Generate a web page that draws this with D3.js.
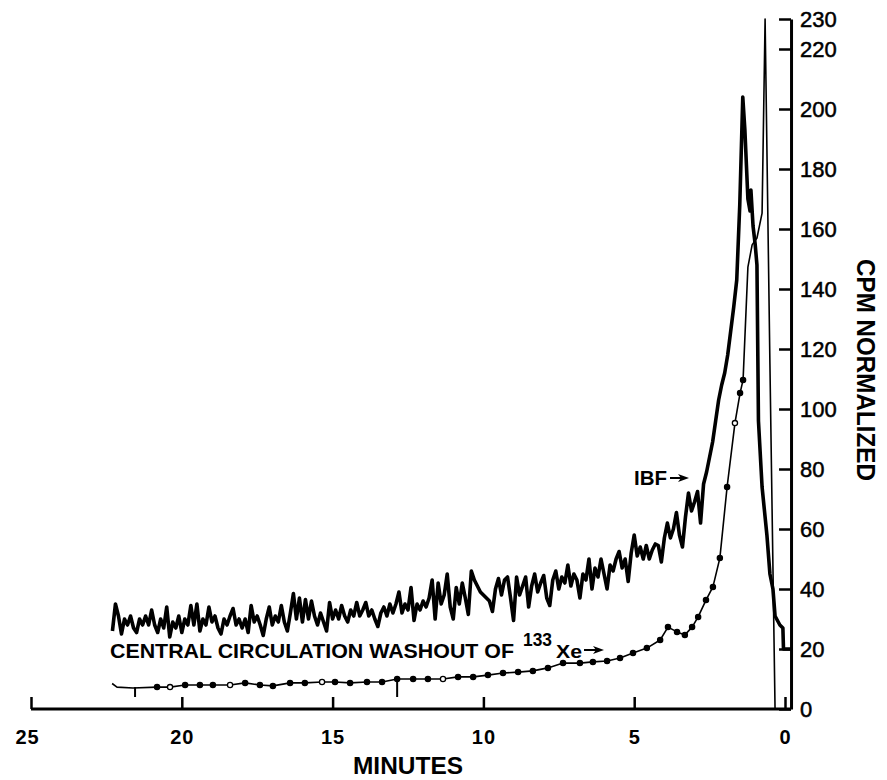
<!DOCTYPE html>
<html>
<head>
<meta charset="utf-8">
<script src="https://d3js.org/d3.v7.min.js"></script>
<style>
    body { margin: 0; background: #ffffff; }
    #washout-svg .font {
        font-family: "Liberation Sans", Arial, Helvetica, sans-serif;
        fill: #000000;
    }
    #washout-svg .axis path,
    #washout-svg .axis line,
    #washout-svg .axis-line {
        stroke: #000000;
        stroke-width: 3;
        fill: none;
    }
    #washout-svg .axis .tick line {
        stroke-width: 2.5;
    }
    #washout-svg .x-axis text {
        font-size: 20px;
        font-weight: bold;
        letter-spacing: 1px;
    }
    #washout-svg .y-axis text {
        font-size: 22px;
        stroke: #000000;
        stroke-width: 0.5;
    }
    #washout-svg .axis-title {
        font-weight: bold;
    }
    #washout-svg .ibf-line {
        fill: none;
        stroke: #000000;
        stroke-width: 3.6;
        stroke-linejoin: round;
    }
    #washout-svg .central-line {
        fill: none;
        stroke: #000000;
        stroke-width: 1.6;
        stroke-linejoin: round;
    }
    #washout-svg .event-mark {
        stroke: #000000;
        stroke-width: 2;
    }
    #washout-svg .label {
        font-weight: bold;
    }
    #washout-svg .arrow {
        stroke: #000000;
        stroke-width: 2;
        fill: none;
    }
</style>
</head>
<body>
<script>

const SVG_ID = "washout-svg";
const SVG_WIDTH = 887;
const SVG_HEIGHT = 780;

const X_AXIS_LABEL = "MINUTES";
const Y_AXIS_LABEL = "CPM NORMALIZED";
const IBF_LABEL = "IBF";
const CENTRAL_LABEL = "CENTRAL CIRCULATION WASHOUT OF";
const ISOTOPE_MASS = "133";
const ISOTOPE_NAME = "Xe";

const MINUTE_TICKS = [25, 20, 15, 10, 5, 0];
const CPM_TICKS = [0, 20, 40, 60, 80, 100, 120, 140, 160, 180, 200, 220, 230];

// [minutes, cpm] (time runs right to left)
const ibfSeries = [
    [22.3, 26], [22.2, 35], [22.1, 31], [22.0, 25], [21.9, 30], [21.8, 28], [21.7, 31], [21.6, 27],
    [21.5, 25.5], [21.4, 30], [21.3, 28], [21.2, 31], [21.1, 28], [21.0, 33], [20.9, 28], [20.8, 25.5],
    [20.7, 30], [20.6, 27], [20.5, 34], [20.4, 24], [20.3, 29], [20.2, 27], [20.1, 31], [20.0, 25.5],
    [19.9, 30], [19.8, 28], [19.7, 34.5], [19.6, 28], [19.5, 35], [19.4, 26], [19.3, 30], [19.2, 28],
    [19.1, 34], [19.0, 29], [18.9, 31], [18.8, 27], [18.7, 25], [18.6, 30], [18.5, 28], [18.4, 31],
    [18.3, 33.5], [18.2, 28], [18.1, 30], [18.0, 27], [17.9, 30], [17.8, 25.5], [17.7, 34.5], [17.6, 29],
    [17.5, 31], [17.4, 28], [17.3, 24.5], [17.2, 30], [17.1, 34], [17.0, 28], [16.9, 31], [16.8, 29],
    [16.7, 34.5], [16.6, 29], [16.5, 26], [16.4, 32], [16.3, 38.5], [16.2, 30], [16.1, 37], [16.0, 29],
    [15.9, 36.5], [15.8, 30], [15.7, 36], [15.6, 31], [15.5, 28], [15.4, 32], [15.3, 29], [15.2, 26],
    [15.1, 35.5], [15.0, 30], [14.9, 33], [14.8, 30], [14.7, 34.5], [14.6, 31], [14.5, 29], [14.4, 33],
    [14.3, 31], [14.2, 35.5], [14.1, 31], [14.0, 33], [13.9, 35.5], [13.8, 31], [13.7, 33], [13.6, 30],
    [13.5, 27.5], [13.4, 32], [13.3, 34], [13.2, 31], [13.1, 35], [13.0, 32], [12.9, 35], [12.8, 39],
    [12.7, 32], [12.6, 35], [12.5, 33], [12.4, 40.5], [12.3, 29.5], [12.2, 35], [12.1, 33], [12.0, 36],
    [11.9, 34], [11.8, 37], [11.7, 43], [11.6, 30], [11.5, 42], [11.4, 35], [11.3, 38], [11.2, 45],
    [11.1, 34], [11.0, 30], [10.9, 40.5], [10.8, 35], [10.7, 42], [10.6, 37], [10.5, 31.5], [10.4, 46],
    [10.3, 43], [10.2, 41], [10.1, 39], [10.0, 38], [9.9, 37], [9.8, 36], [9.7, 32.5], [9.6, 40],
    [9.5, 43.5], [9.4, 38], [9.3, 43], [9.2, 44], [9.1, 37], [9.0, 29.5], [8.9, 44], [8.8, 38],
    [8.7, 41], [8.6, 44], [8.5, 34], [8.4, 41], [8.3, 45], [8.2, 39], [8.1, 42], [8.0, 44.5],
    [7.9, 37], [7.8, 34.5], [7.7, 43], [7.6, 46], [7.5, 40], [7.4, 44], [7.3, 42], [7.2, 48],
    [7.1, 41], [7.0, 45], [6.9, 43], [6.8, 37], [6.7, 45], [6.6, 43], [6.5, 50], [6.4, 40],
    [6.3, 47], [6.2, 44], [6.1, 50], [6.0, 45], [5.9, 40], [5.8, 48], [5.7, 46], [5.6, 50],
    [5.5, 52.5], [5.4, 47], [5.3, 50], [5.2, 42.5], [5.1, 52], [5.0, 58], [4.9, 51], [4.8, 54],
    [4.7, 50], [4.6, 54.5], [4.5, 50], [4.4, 53], [4.3, 55], [4.2, 54.5], [4.1, 49], [4.0, 57],
    [3.9, 62], [3.8, 57], [3.7, 60], [3.6, 65.5], [3.5, 58], [3.4, 54], [3.3, 64], [3.2, 72],
    [3.1, 66], [3.0, 69], [2.9, 72.5], [2.8, 62], [2.7, 75], [2.6, 79], [2.5, 84], [2.4, 89],
    [2.3, 96], [2.2, 103], [2.1, 108], [2.0, 112], [1.9, 118], [1.8, 126], [1.7, 134], [1.6, 143],
    [1.5, 168], [1.4, 204], [1.33, 193], [1.23, 170], [1.16, 166], [1.13, 173], [1.06, 161], [0.99, 155],
    [0.93, 148], [0.88, 96], [0.76, 74], [0.6, 58], [0.5, 45], [0.4, 40], [0.33, 31], [0.17, 28],
    [0.07, 27], [0.05, 20], [-0.2, 20]
];

const centralSeries = [
    [22.31, 8.5], [22.15, 7.3], [21.62, 7.0], [20.82, 7.3], [20.39, 7.3], [19.89, 8.0], [19.40, 8.0],
    [18.97, 8.0], [18.40, 8.0], [17.90, 8.7], [17.41, 8.0], [16.98, 7.7], [16.41, 8.7], [15.92, 8.7],
    [15.35, 9.0], [14.92, 9.0], [14.42, 8.7], [13.86, 9.0], [13.36, 9.0], [12.86, 10.0], [12.33, 10.0],
    [11.84, 10.0], [11.34, 10.0], [10.84, 10.7], [10.34, 10.7], [9.85, 11.3], [9.35, 12.0], [8.85, 12.3],
    [8.36, 12.7], [7.86, 13.7], [7.36, 15.3], [6.80, 15.3], [6.37, 15.7], [5.90, 16.0], [5.47, 17.0],
    [5.04, 18.7], [4.58, 20.3], [4.14, 23.0], [3.88, 27.3], [3.58, 25.7], [3.32, 24.7], [3.08, 27.3],
    [2.88, 30.7], [2.62, 36.3], [2.39, 40.7], [2.16, 50.3], [1.92, 74], [1.66, 95.3], [1.49, 105.3],
    [1.39, 109.7], [1.23, 147.3], [1.09, 154.7], [0.93, 157], [0.76, 165.3], [0.66, 230], [0.50, 115],
    [0.33, 0]
];
const centralDotRange = [1.3, 21.0];
const centralOpenDots = [20.39, 18.40, 15.35, 11.34, 1.66];
// [minutes, from cpm, to cpm] small event ticks hanging under the washout trace
const centralEventMarks = [[21.55, 7.3, 4], [12.86, 10.3, 4]];

const AXIS_MINUTE = -0.2;

var svg = d3.select("body")
    .append("svg")
    .attr("id", SVG_ID)
    .attr("width", SVG_WIDTH)
    .attr("height", SVG_HEIGHT);

var xScale = d3.scaleLinear()
    .domain([25, 0])
    .range([31, 785]);
var yScale = d3.scaleLinear()
    .domain([0, 230])
    .range([709, 19]);

var axisX = xScale(AXIS_MINUTE);

// bottom axis
svg.append("line")
    .classed("axis-line", true)
    .attr("x1", xScale(25))
    .attr("x2", axisX)
    .attr("y1", yScale(0))
    .attr("y2", yScale(0));

var xAxis = d3.axisBottom(xScale)
    .tickValues(MINUTE_TICKS)
    .tickSizeInner(-12)
    .tickSizeOuter(0)
    .tickPadding(21)
    .tickFormat(d3.format("d"));
var xAxisGroup = svg.append("g")
    .classed("axis x-axis font", true)
    .attr("transform", "translate(0," + yScale(0) + ")")
    .call(xAxis);
xAxisGroup.select(".domain").remove();
xAxisGroup.selectAll("text")
    .attr("font-family", null)
    .attr("font-size", null)
    .attr("dx", function(d) { return d === 25 ? -4 : 0; })
    .classed("font", true);

svg.append("text")
    .classed("font axis-title", true)
    .attr("x", 408)
    .attr("y", 774)
    .attr("text-anchor", "middle")
    .attr("font-size", 23)
    .attr("textLength", 110)
    .attr("lengthAdjust", "spacingAndGlyphs")
    .text(X_AXIS_LABEL);

// right axis
var yAxis = d3.axisRight(yScale)
    .tickValues(CPM_TICKS)
    .tickSizeInner(-12)
    .tickSizeOuter(0)
    .tickPadding(9);
var yAxisGroup = svg.append("g")
    .classed("axis y-axis font", true)
    .attr("transform", "translate(" + axisX + ",0)")
    .call(yAxis);
yAxisGroup.selectAll("text")
    .attr("font-family", null)
    .attr("font-size", null)
    .classed("font", true);

svg.append("text")
    .classed("font axis-title", true)
    .attr("transform", "translate(857," + 370 + ") rotate(90)")
    .attr("text-anchor", "middle")
    .attr("font-size", 26)
    .attr("textLength", 222)
    .attr("lengthAdjust", "spacingAndGlyphs")
    .text(Y_AXIS_LABEL);

// traces
var line = d3.line()
    .x(function(d) { return xScale(d[0]); })
    .y(function(d) { return yScale(d[1]); });

svg.append("path")
    .datum(centralSeries)
    .classed("central-line", true)
    .attr("d", line);

svg.selectAll(".event-mark")
    .data(centralEventMarks)
    .enter()
    .append("line")
    .classed("event-mark", true)
    .attr("x1", function(d) { return xScale(d[0]); })
    .attr("x2", function(d) { return xScale(d[0]); })
    .attr("y1", function(d) { return yScale(d[1]); })
    .attr("y2", function(d) { return yScale(d[2]); });

svg.selectAll(".central-dot")
    .data(centralSeries.filter(function(d) {
        return d[0] >= centralDotRange[0] && d[0] <= centralDotRange[1];
    }))
    .enter()
    .append("circle")
    .classed("central-dot", true)
    .attr("cx", function(d) { return xScale(d[0]); })
    .attr("cy", function(d) { return yScale(d[1]); })
    .attr("r", 2.6)
    .attr("fill", function(d) {
        return centralOpenDots.indexOf(d[0]) >= 0 ? "#ffffff" : "#000000";
    })
    .attr("stroke", "#000000")
    .attr("stroke-width", 1.3);

svg.append("path")
    .datum(ibfSeries)
    .classed("ibf-line", true)
    .attr("d", line);

// labels
svg.append("text")
    .classed("font label", true)
    .attr("x", 634)
    .attr("y", 485)
    .attr("font-size", 20)
    .attr("textLength", 33)
    .attr("lengthAdjust", "spacingAndGlyphs")
    .text(IBF_LABEL);

function drawArrow(x0, x1, yPos) {
    svg.append("line")
        .classed("arrow", true)
        .attr("x1", x0).attr("x2", x1 - 4)
        .attr("y1", yPos).attr("y2", yPos);
    svg.append("path")
        .attr("d", "M" + x1 + "," + yPos + "L" + (x1 - 11) + "," + (yPos - 4) +
            "L" + (x1 - 8) + "," + yPos + "L" + (x1 - 11) + "," + (yPos + 4) + "Z")
        .attr("fill", "#000000");
}
drawArrow(670, 689, 478);

// washout label: main words, then superscript mass number and element symbol
svg.append("text")
    .classed("font label", true)
    .attr("x", 110)
    .attr("y", 658)
    .attr("font-size", 21)
    .attr("textLength", 404)
    .attr("lengthAdjust", "spacingAndGlyphs")
    .text(CENTRAL_LABEL);
svg.append("text")
    .classed("font label", true)
    .attr("x", 523)
    .attr("y", 646)
    .attr("font-size", 18)
    .attr("textLength", 29)
    .attr("lengthAdjust", "spacingAndGlyphs")
    .text(ISOTOPE_MASS);
svg.append("text")
    .classed("font label", true)
    .attr("x", 556)
    .attr("y", 658)
    .attr("font-size", 19)
    .attr("textLength", 26)
    .attr("lengthAdjust", "spacingAndGlyphs")
    .text(ISOTOPE_NAME);
drawArrow(584, 604, 650);

</script>
</body>
</html>
